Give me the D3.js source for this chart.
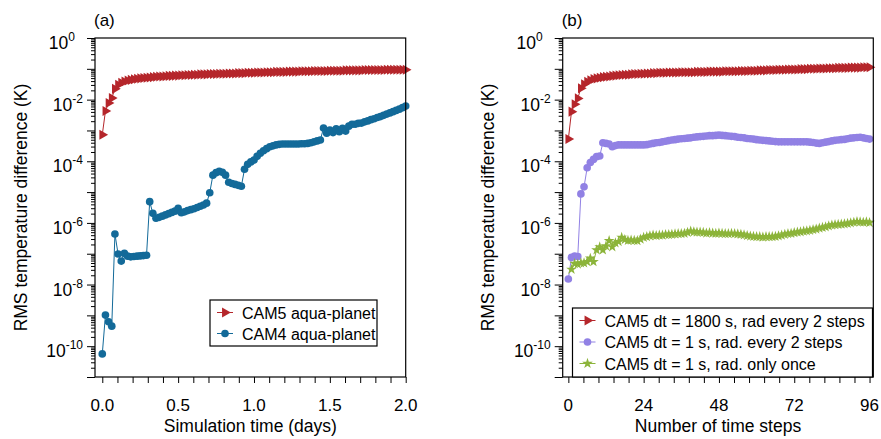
<!DOCTYPE html>
<html>
<head>
<meta charset="utf-8">
<script src="https://cdn.jsdelivr.net/npm/d3@7"></script>
<style>
  body { margin: 0; background: #fff; }
  svg text { font-family: "Liberation Sans", Arial, Helvetica, sans-serif; fill: #000; }
</style>
</head>
<body>
<div id="canvas"></div>
<script>
// Output index (one value per time step, 48 steps per day).
var stepsAll = d3.range(0, 97);
var stepsGreen = d3.range(1, 97);

// Panel (a): log10 of RMS temperature difference.
var cam5AquaLog = [-3.14,-2.37,-2.11,-1.95,-1.65,-1.52,-1.45,-1.41,-1.38,-1.36,
  -1.34,-1.32,-1.31,-1.30,-1.29,-1.28,-1.27,-1.26,-1.25,-1.25,
  -1.24,-1.23,-1.23,-1.22,-1.22,-1.21,-1.21,-1.20,-1.20,-1.19,
  -1.19,-1.18,-1.18,-1.18,-1.17,-1.17,-1.17,-1.16,-1.16,-1.16,
  -1.15,-1.15,-1.15,-1.14,-1.14,-1.14,-1.13,-1.13,-1.13,-1.12,
  -1.12,-1.12,-1.11,-1.11,-1.11,-1.10,-1.10,-1.10,-1.10,-1.09,
  -1.09,-1.09,-1.09,-1.08,-1.08,-1.08,-1.08,-1.07,-1.07,-1.07,
  -1.07,-1.07,-1.06,-1.06,-1.06,-1.06,-1.06,-1.05,-1.05,-1.05,
  -1.05,-1.05,-1.05,-1.04,-1.04,-1.04,-1.04,-1.04,-1.04,-1.04,
  -1.03,-1.03,-1.03,-1.03,-1.03,-1.03,-1.03];

var cam4AquaLog = [-10.25,-8.99,-9.21,-9.35,-6.36,-7.01,-7.24,-6.99,-7.08,-7.10,
  -7.09,-7.08,-7.07,-7.06,-7.05,-5.31,-5.69,-5.85,-5.82,-5.78,
  -5.74,-5.70,-5.66,-5.62,-5.53,-5.67,-5.64,-5.60,-5.57,-5.54,
  -5.50,-5.46,-5.42,-5.36,-5.02,-4.45,-4.37,-4.33,-4.36,-4.45,
  -4.68,-4.72,-4.75,-4.78,-4.81,-4.26,-4.10,-4.02,-3.96,-3.84,
  -3.74,-3.66,-3.59,-3.53,-3.50,-3.47,-3.45,-3.44,-3.44,-3.44,
  -3.44,-3.44,-3.44,-3.43,-3.43,-3.42,-3.40,-3.37,-3.34,-3.31,
  -2.92,-3.09,-2.99,-3.07,-2.95,-3.04,-2.93,-3.02,-2.86,-2.80,
  -2.80,-2.77,-2.76,-2.72,-2.69,-2.65,-2.62,-2.58,-2.55,-2.51,
  -2.47,-2.43,-2.39,-2.35,-2.31,-2.26,-2.21];

// Panel (b)
var cam5Dt1800Log = [-3.28,-2.39,-2.15,-1.96,-1.63,-1.50,-1.42,-1.37,-1.33,-1.31,
  -1.29,-1.27,-1.26,-1.25,-1.23,-1.22,-1.21,-1.20,-1.19,-1.19,
  -1.18,-1.17,-1.17,-1.16,-1.16,-1.15,-1.15,-1.14,-1.14,-1.13,
  -1.13,-1.13,-1.12,-1.12,-1.12,-1.12,-1.11,-1.11,-1.11,-1.11,
  -1.11,-1.10,-1.10,-1.10,-1.10,-1.09,-1.09,-1.09,-1.09,-1.09,
  -1.08,-1.08,-1.08,-1.08,-1.08,-1.07,-1.07,-1.07,-1.06,-1.06,
  -1.06,-1.05,-1.05,-1.05,-1.04,-1.04,-1.04,-1.03,-1.03,-1.03,
  -1.02,-1.02,-1.02,-1.02,-1.01,-1.01,-1.01,-1.00,-1.00,-1.00,
  -0.99,-0.99,-0.99,-0.98,-0.98,-0.98,-0.97,-0.97,-0.97,-0.97,
  -0.96,-0.96,-0.96,-0.96,-0.95,-0.95,-0.95];

var cam5Dt1Rad2Log = [-7.82,-7.12,-7.08,-7.09,-5.06,-4.83,-4.21,-4.04,-3.94,-3.85,
  -3.83,-3.40,-3.42,-3.44,-3.53,-3.49,-3.47,-3.47,-3.47,-3.47,
  -3.47,-3.47,-3.47,-3.47,-3.47,-3.46,-3.44,-3.42,-3.40,-3.39,
  -3.37,-3.35,-3.33,-3.31,-3.30,-3.28,-3.27,-3.26,-3.25,-3.24,
  -3.22,-3.21,-3.20,-3.19,-3.18,-3.17,-3.17,-3.16,-3.15,-3.16,
  -3.17,-3.18,-3.19,-3.20,-3.22,-3.23,-3.24,-3.26,-3.27,-3.28,
  -3.30,-3.31,-3.32,-3.33,-3.34,-3.35,-3.36,-3.37,-3.37,-3.37,
  -3.37,-3.37,-3.37,-3.37,-3.37,-3.37,-3.37,-3.38,-3.39,-3.41,
  -3.42,-3.40,-3.38,-3.36,-3.34,-3.32,-3.31,-3.30,-3.29,-3.27,
  -3.25,-3.24,-3.23,-3.22,-3.24,-3.26,-3.28];

var cam5Dt1OnceLog = [-7.51,-7.32,-7.34,-7.30,-7.30,-7.26,-7.15,-7.26,-6.88,
  -6.78,-6.88,-6.75,-6.58,-6.78,-6.65,-6.61,-6.47,-6.54,-6.57,
  -6.56,-6.57,-6.58,-6.53,-6.47,-6.45,-6.42,-6.40,-6.41,-6.40,
  -6.40,-6.38,-6.38,-6.37,-6.36,-6.35,-6.35,-6.34,-6.31,-6.27,
  -6.29,-6.30,-6.30,-6.31,-6.33,-6.32,-6.33,-6.34,-6.33,-6.34,
  -6.35,-6.35,-6.34,-6.35,-6.36,-6.37,-6.39,-6.41,-6.43,-6.44,
  -6.45,-6.45,-6.46,-6.45,-6.45,-6.45,-6.44,-6.42,-6.40,-6.37,
  -6.35,-6.34,-6.32,-6.30,-6.29,-6.27,-6.26,-6.24,-6.22,-6.20,
  -6.17,-6.15,-6.13,-6.10,-6.07,-6.06,-6.05,-6.04,-6.03,-6.02,
  -6.00,-5.98,-5.96,-5.97,-5.98,-5.97,-5.99];

var xTicksA = [0, 0.5, 1.0, 1.5, 2.0];
var xTicksB = [0, 24, 48, 72, 96];
var yLabelExps = [0, -2, -4, -6, -8, -10];

var RED = '#b5262b', BLUE = '#136a99', PURPLE = '#9181e4', GREEN = '#8cb43a';

var svg = d3.select('#canvas').append('svg')
    .attr('width', 881)
    .attr('height', 439);

var y = d3.scaleLog().domain([1e-11, 1]).range([377, 38]);

// minor log ticks 2..9 in every decade
var yMinor = [];
d3.range(-11, 0).forEach(function(e) {
    d3.range(2, 10).forEach(function(m) { yMinor.push(m * Math.pow(10, e)); });
});
var yMajor = d3.range(-11, 1).map(function(e) { return Math.pow(10, e); });

var symTri = d3.symbol().type(d3.symbolTriangle).size(44);
var symCircle = d3.symbol().type(d3.symbolCircle).size(46);
var symStar = d3.symbol().type(d3.symbolStar).size(36);

var markerPath = function(kind) {
    return kind === 'tri' ? symTri() : kind === 'star' ? symStar() : symCircle();
};

// Draws one series: a thin line plus markers.
var drawSeries = function(g, x, xs, logs, color, kind) {
    var pts = xs.map(function(v, i) { return [x(v), y(Math.pow(10, logs[i]))]; });
    g.append('path')
        .attr('d', d3.line()(pts))
        .attr('fill', 'none')
        .attr('stroke', color)
        .attr('stroke-width', 1);
    g.selectAll(null).data(pts).enter().append('path')
        .attr('d', markerPath(kind))
        .attr('transform', function(d) {
            return 'translate(' + d[0] + ',' + d[1] + ')' + (kind === 'tri' ? ' rotate(90)' : '');
        })
        .attr('fill', color);
};

var drawPanel = function(opts) {
    var x = opts.x, x0 = x.range()[0], x1 = x.range()[1];
    var g = svg.append('g');

    // y axis: major and minor ticks, labels as 10^n
    g.append('g').attr('transform', 'translate(' + x0 + ',0)')
        .call(d3.axisLeft(y).tickValues(yMinor).tickSize(4).tickSizeOuter(0).tickFormat(''));
    g.append('g').attr('transform', 'translate(' + x0 + ',0)')
        .call(d3.axisLeft(y).tickValues(yMajor).tickSize(8).tickSizeOuter(0).tickFormat(''));
    yLabelExps.forEach(function(e) {
        var t = g.append('text')
            .attr('x', x0 - (e === 0 ? 20 : 12))
            .attr('y', y(Math.pow(10, e)) + 11)
            .attr('text-anchor', 'end')
            .attr('font-size', 17.5);
        t.append('tspan').text('10');
        t.append('tspan').attr('dy', -8).attr('font-size', 12).text(String(e));
    });

    // x axis
    g.append('g').attr('transform', 'translate(0,377)')
        .call(d3.axisBottom(x).tickValues(opts.xMinor).tickSize(6).tickSizeOuter(0).tickFormat(''));
    g.selectAll('.domain').remove();
    g.selectAll('.tick line').attr('stroke', '#000').attr('stroke-width', 1);
    opts.xTicks.forEach(function(v) {
        g.append('text')
            .attr('x', x(v))
            .attr('y', 411)
            .attr('text-anchor', 'middle')
            .attr('font-size', 17)
            .text(opts.fmt(v));
    });

    // series
    opts.series.forEach(function(s) { drawSeries(g, x, s.xs, s.logs, s.color, s.kind); });

    // frame
    g.append('rect')
        .attr('x', x0).attr('y', 38)
        .attr('width', x1 - x0).attr('height', 377 - 38)
        .attr('fill', 'none').attr('stroke', '#000').attr('stroke-width', 1.2);

    // titles
    g.append('text').attr('x', (x0 + x1) / 2).attr('y', 432)
        .attr('text-anchor', 'middle').attr('font-size', 17.5).text(opts.xTitle);
    g.append('text')
        .attr('transform', 'translate(' + (x0 - 68.5) + ',' + ((38 + 377) / 2) + ') rotate(-90)')
        .attr('text-anchor', 'middle').attr('font-size', 17.5)
        .text('RMS temperature difference (K)');
    g.append('text').attr('x', x0 - 1).attr('y', 26).attr('font-size', 17).text(opts.tag);

    // legend
    var L = opts.legend;
    g.append('rect')
        .attr('x', L.x).attr('y', L.y).attr('width', L.w).attr('height', L.h)
        .attr('fill', '#fff').attr('stroke', '#000').attr('stroke-width', 1.2);
    opts.series.forEach(function(s, i) {
        var cy = L.y + L.first + i * L.step;
        g.append('line')
            .attr('x1', L.x + 7).attr('x2', L.x + 23)
            .attr('y1', cy).attr('y2', cy)
            .attr('stroke', s.color).attr('stroke-width', 1);
        g.append('path')
            .attr('d', markerPath(s.kind))
            .attr('transform', 'translate(' + (L.x + 15) + ',' + cy + ')' + (s.kind === 'tri' ? ' rotate(90)' : ''))
            .attr('fill', s.color);
        g.append('text')
            .attr('x', L.x + 32).attr('y', cy + 6)
            .attr('font-size', 16)
            .text(s.name);
    });
};

var stepDays = stepsAll.map(function(s) { return s / 48; });

drawPanel({
    x: d3.scaleLinear().domain([-0.048, 2.0]).range([95, 405.7]),
    xMinor: d3.range(0, 21).map(function(i) { return i / 10; }),
    xTicks: xTicksA,
    fmt: d3.format('.1f'),
    xTitle: 'Simulation time (days)',
    tag: '(a)',
    legend: { x: 210, y: 300, w: 167, h: 46, first: 12.5, step: 21 },
    series: [
        { name: 'CAM5 aqua-planet', xs: stepDays, logs: cam5AquaLog, color: RED, kind: 'tri' },
        { name: 'CAM4 aqua-planet', xs: stepDays, logs: cam4AquaLog, color: BLUE, kind: 'circle' }
    ]
});

drawPanel({
    x: d3.scaleLinear().domain([-1.8, 97.2]).range([562.7, 873.3]),
    xMinor: d3.range(0, 21).map(function(i) { return i * 4.8; }),
    xTicks: xTicksB,
    fmt: d3.format('d'),
    xTitle: 'Number of time steps',
    tag: '(b)',
    legend: { x: 572.5, y: 308, w: 300, h: 69, first: 12.5, step: 21.5 },
    series: [
        { name: 'CAM5 dt = 1800 s, rad every 2 steps', xs: stepsAll, logs: cam5Dt1800Log, color: RED, kind: 'tri' },
        { name: 'CAM5 dt = 1 s, rad. every 2 steps', xs: stepsAll, logs: cam5Dt1Rad2Log, color: PURPLE, kind: 'circle' },
        { name: 'CAM5 dt = 1 s, rad. only once', xs: stepsGreen, logs: cam5Dt1OnceLog, color: GREEN, kind: 'star' }
    ]
});
</script>
</body>
</html>
